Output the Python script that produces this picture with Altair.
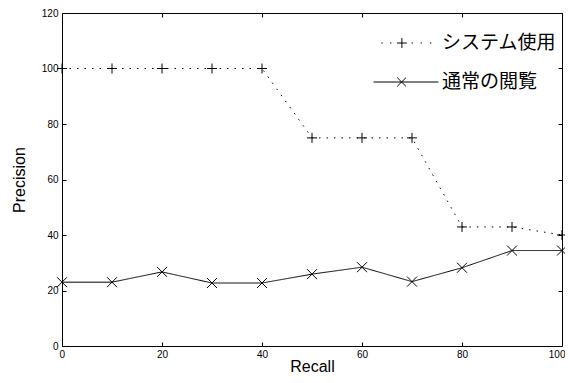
import altair as alt
import pandas as pd

# ---- data ----
recall = [0, 10, 20, 30, 40, 50, 60, 70, 80, 90, 100]
system_use = [100, 100, 100, 100, 100, 75, 75, 75, 42.9, 42.9, 40]
normal_browse = [23.0, 23.0, 26.7, 22.7, 22.7, 25.9, 28.4, 23.2, 28.2, 34.4, 34.4]
series_names = ["システム使用", "通常の閲覧"]
x_ticks = [0, 20, 40, 60, 80, 100]
y_ticks = [0, 20, 40, 60, 80, 100, 120]

df = pd.DataFrame({
    "Recall": recall + recall,
    "Precision": system_use + normal_browse,
    "series": [series_names[0]] * len(recall) + [series_names[1]] * len(recall),
})

W, H = 500, 333
FONT = "Liberation Sans"

PLUS = "M-1,0L1,0M0,-1L0,1"
CROSS = "M-1,-1L1,1M-1,1L1,-1"
LEG_SYS = ("M-0.9,0L-0.85,0M-0.58,0L-0.53,0M0.2,0L0.25,0M0.53,0L0.58,0M0.87,0L0.92,0"
           "M-0.33,0L0.03,0M-0.15,-0.18L-0.15,0.18")
LEG_NORM = "M-1.18,0L1.18,0M-0.32,-0.16L0,0.16M-0.32,0.16L0,-0.16"

xs = alt.Scale(domain=[0, 100], nice=False, zero=False)
ys = alt.Scale(domain=[0, 120], nice=False, zero=False)

x_main = alt.X("Recall:Q", scale=xs, axis=alt.Axis(
    values=x_ticks, title="Recall", ticks=False, tickSize=0, domain=False, grid=False,
    labelPadding=3, labelFontSize=10, titleFontSize=16, labelFlush=True, labelFlushOffset=3,
    titleX=W / 2, titleY=25, titleBaseline="alphabetic"))
y_main = alt.Y("Precision:Q", scale=ys, axis=alt.Axis(
    values=y_ticks, title="Precision", ticks=False, tickSize=0, domain=False, grid=False,
    labelPadding=4, labelFontSize=10, titleFontSize=16, labelFlush=False,
    titleX=-38, titleY=H / 2, titleBaseline="alphabetic"))

line = alt.Chart(df).mark_line(color="black", strokeWidth=1).encode(
    x=x_main, y=y_main,
    strokeDash=alt.StrokeDash("series:N", scale=alt.Scale(domain=series_names, range=[[1.5, 6], [1, 0]]), legend=None),
)

points = alt.Chart(df).mark_point(filled=False, color="black", size=100, strokeWidth=1, opacity=1).encode(
    x=x_main, y=y_main,
    shape=alt.Shape("series:N", scale=alt.Scale(domain=series_names, range=[PLUS, CROSS]), legend=None),
)

legend_layer = alt.Chart(df).transform_filter("false").mark_point(
    filled=False, color="black", strokeWidth=1, opacity=1).encode(
    x=x_main, y=y_main,
    shape=alt.Shape("series:N", scale=alt.Scale(domain=series_names, range=[LEG_SYS, LEG_NORM]),
                    legend=alt.Legend(title=None, orient="none", legendX=316, legendY=2,
                                      symbolSize=3025, labelFont="Noto Sans CJK JP", labelFontSize=19,
                                      labelColor="black", rowPadding=1, labelOffset=8, padding=0,
                                      symbolStrokeWidth=1, symbolStrokeColor="black",
                                      symbolFillColor="transparent", labelLimit=300)),
)

main = alt.layer(line, points, legend_layer).resolve_scale(shape="independent")

tick_ax = dict(labels=False, domain=False, title=None, ticks=True, tickSize=4, grid=False,
               tickColor="black", tickWidth=1)

ticks_a = alt.Chart(df).transform_filter("false").mark_point().encode(
    x=alt.X("Recall:Q", scale=xs, axis=alt.Axis(orient="top", offset=-H, values=x_ticks, **tick_ax)),
    y=alt.Y("Precision:Q", scale=ys, axis=alt.Axis(orient="right", offset=-W, values=y_ticks, **tick_ax)),
)
ticks_b = alt.Chart(df).transform_filter("false").mark_point().encode(
    x=alt.X("Recall:Q", scale=xs, axis=alt.Axis(orient="bottom", offset=-H, values=x_ticks, **tick_ax)),
    y=alt.Y("Precision:Q", scale=ys, axis=alt.Axis(orient="left", offset=-W, values=y_ticks, **tick_ax)),
)

chart = alt.layer(main, ticks_a, ticks_b).resolve_scale(
    x="independent", y="independent"
).properties(
    width=W, height=H,
    autosize=alt.AutoSizeParams(type="none"),
    padding={"left": 54, "top": 5, "right": 3, "bottom": 29},
    background="white",
).configure_view(
    stroke="black", strokeWidth=1
).configure_axis(
    labelFont=FONT, titleFont=FONT, labelColor="black", titleColor="black",
    titleFontWeight="normal", tickColor="black"
)

chart.save("out.html", embed_options={"renderer": "svg", "actions": False})
